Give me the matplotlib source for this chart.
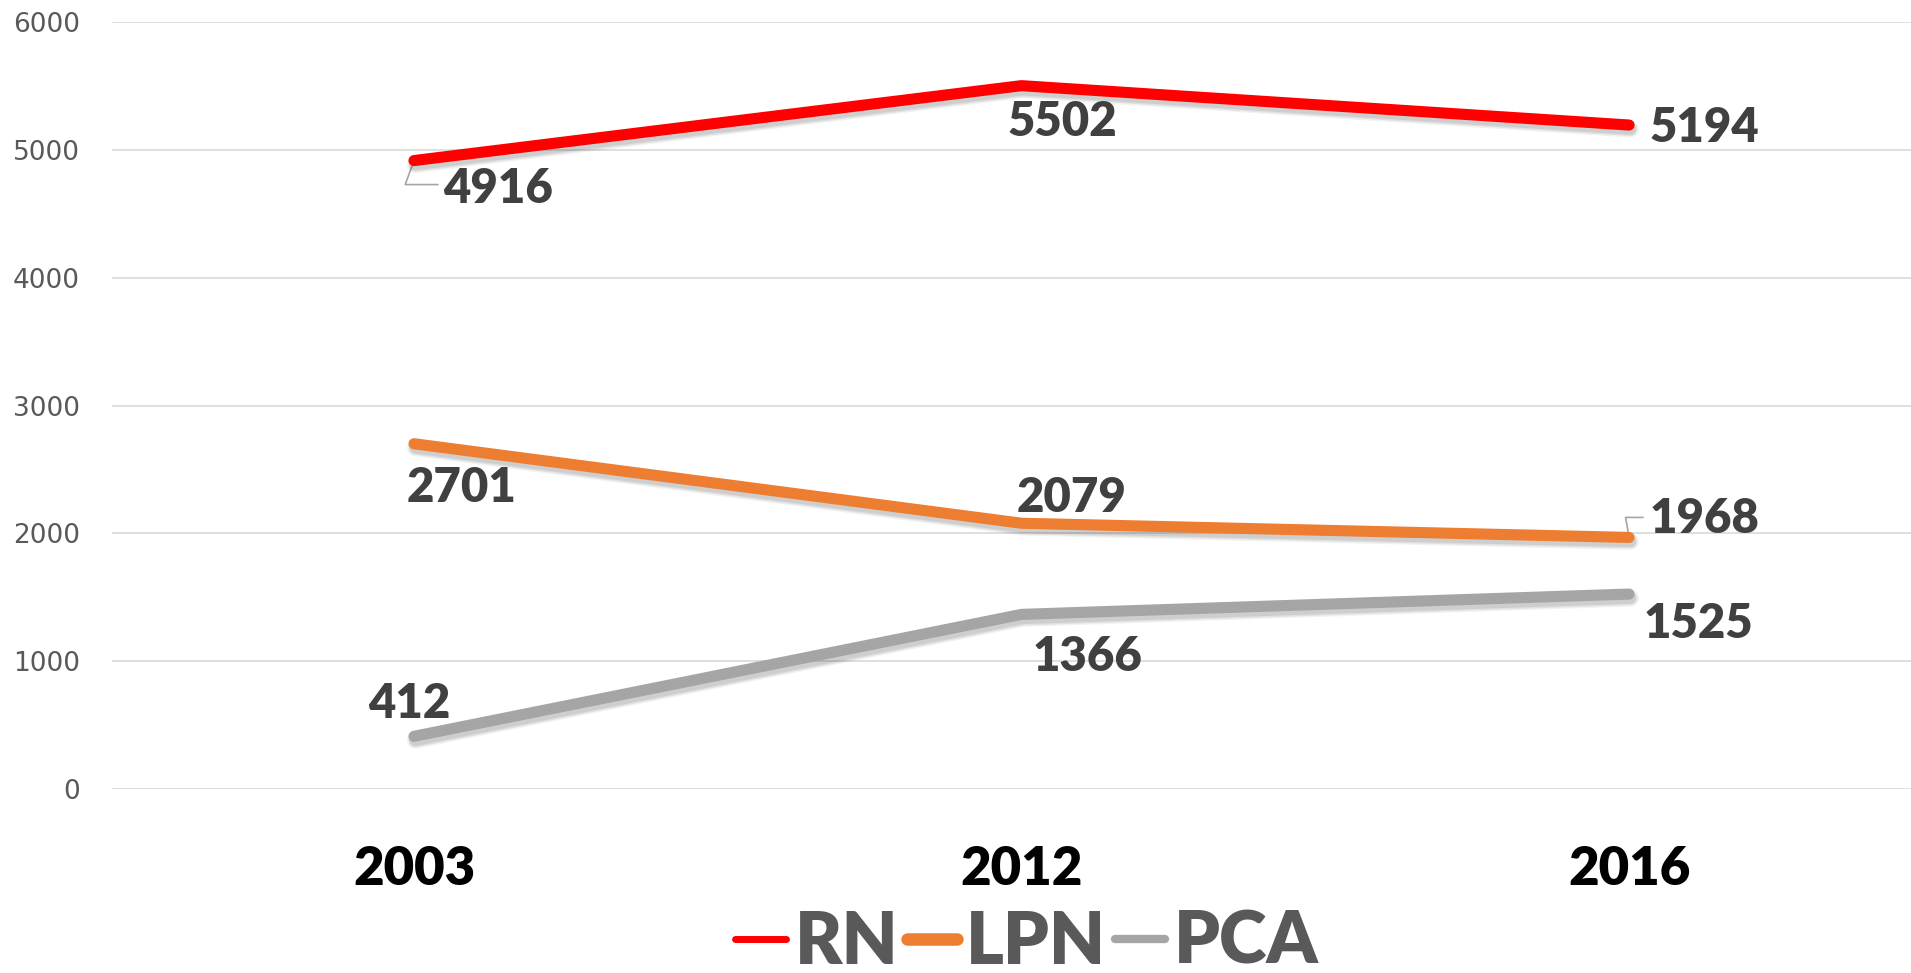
import matplotlib
matplotlib.use("Agg")
import matplotlib.pyplot as plt
import matplotlib.patheffects as pe

years = ["2003", "2012", "2016"]
rn = [4916, 5502, 5194]
lpn = [2701, 2079, 1968]
pca = [412, 1366, 1525]
yticks = [0, 1000, 2000, 3000, 4000, 5000, 6000]

colors = {"RN": "#FF0000", "LPN": "#ED7D31", "PCA": "#A5A5A5"}

W, H = 1911, 973
fig = plt.figure(figsize=(W / 100, H / 100), dpi=100)
ax = fig.add_axes([112 / W, 1 - 789 / H, 1 - 112 / W, (789 - 22) / H])

x = list(range(len(years)))
shadow = [pe.SimpleLineShadow(offset=(1, -3), shadow_color="black", alpha=0.05, linewidth=12),
          pe.SimpleLineShadow(offset=(1, -3), shadow_color="black", alpha=0.07, linewidth=10),
          pe.SimpleLineShadow(offset=(1, -3), shadow_color="black", alpha=0.08, linewidth=8),
          pe.Normal()]
series = [("RN", rn), ("LPN", lpn), ("PCA", pca)]
for name, vals in series:
    ax.plot(x, vals, color=colors[name], lw=8, solid_capstyle="round",
            solid_joinstyle="round", path_effects=shadow, zorder=3)

ax.set_ylim(0, 6000)
ax.set_xlim(-0.497, 2.464)
ax.set_yticks(yticks)
ax.set_yticklabels([str(v) for v in yticks])
ax.set_xticks(x)
ax.set_xticklabels(years)
ax.grid(axis="y", color="#D9D9D9", lw=1.2, zorder=0)
ax.set_axisbelow(True)
for s in ax.spines.values():
    s.set_visible(False)
ax.tick_params(axis="both", length=0)
ax.tick_params(axis="y", pad=23, labelsize=19, labelcolor="#595959")
for t in ax.get_yticklabels():
    t.set_fontfamily("DejaVu Sans")
ax.tick_params(axis="x", pad=40, labelsize=38, labelcolor="black")
for t in ax.get_xticklabels():
    t.set_fontfamily("Lato")
    t.set_fontweight("heavy")

# data label offsets in pixels (dx, dy) relative to the point
offsets = {
    "RN": [(84, -28), (41, -36), (75, -3)],
    "LPN": [(48, -44), (50, 25), (75, 18)],
    "PCA": [(-5, 32), (66, -43), (69, -30)],
}
for name, vals in series:
    for i, v in enumerate(vals):
        dx, dy = offsets[name][i]
        ax.annotate(str(v), (x[i], v), xytext=(dx, dy), textcoords="offset pixels",
                    ha="center", va="center", fontsize=34, fontweight="heavy",
                    family="Lato", color="#404040", zorder=5)

# leader lines
ax.annotate("", (x[0], rn[0]), xytext=(24, -24), textcoords="offset pixels",
            arrowprops=dict(arrowstyle="-", color="#A5A5A5", lw=1.2,
                            connectionstyle="angle,angleA=0,angleB=70,rad=0",
                            shrinkA=0, shrinkB=4), zorder=2)
ax.annotate("", (x[2], lpn[2]), xytext=(14, 20), textcoords="offset pixels",
            arrowprops=dict(arrowstyle="-", color="#A5A5A5", lw=1.2,
                            connectionstyle="angle,angleA=0,angleB=-80,rad=0",
                            shrinkA=0, shrinkB=4), zorder=2)

# legend
from matplotlib.lines import Line2D
handles = [Line2D([0], [0], color=colors["RN"], lw=5, solid_capstyle="round"),
           Line2D([0], [0], color=colors["LPN"], lw=9, solid_capstyle="round"),
           Line2D([0], [0], color=colors["PCA"], lw=6, solid_capstyle="round")]
leg = fig.legend(handles, ["RN", "LPN", "PCA"], loc="center",
                 bbox_to_anchor=(1027 / W, 1 - 943 / H), bbox_transform=fig.transFigure,
                 ncol=3, frameon=False, handlelength=0.7, handletextpad=0.12,
                 columnspacing=0.12, borderpad=0, borderaxespad=0,
                 prop={"family": "Lato", "weight": "heavy", "size": 52})
for t in leg.get_texts():
    t.set_color("#595959")

fig.savefig("out.png", dpi=100)
